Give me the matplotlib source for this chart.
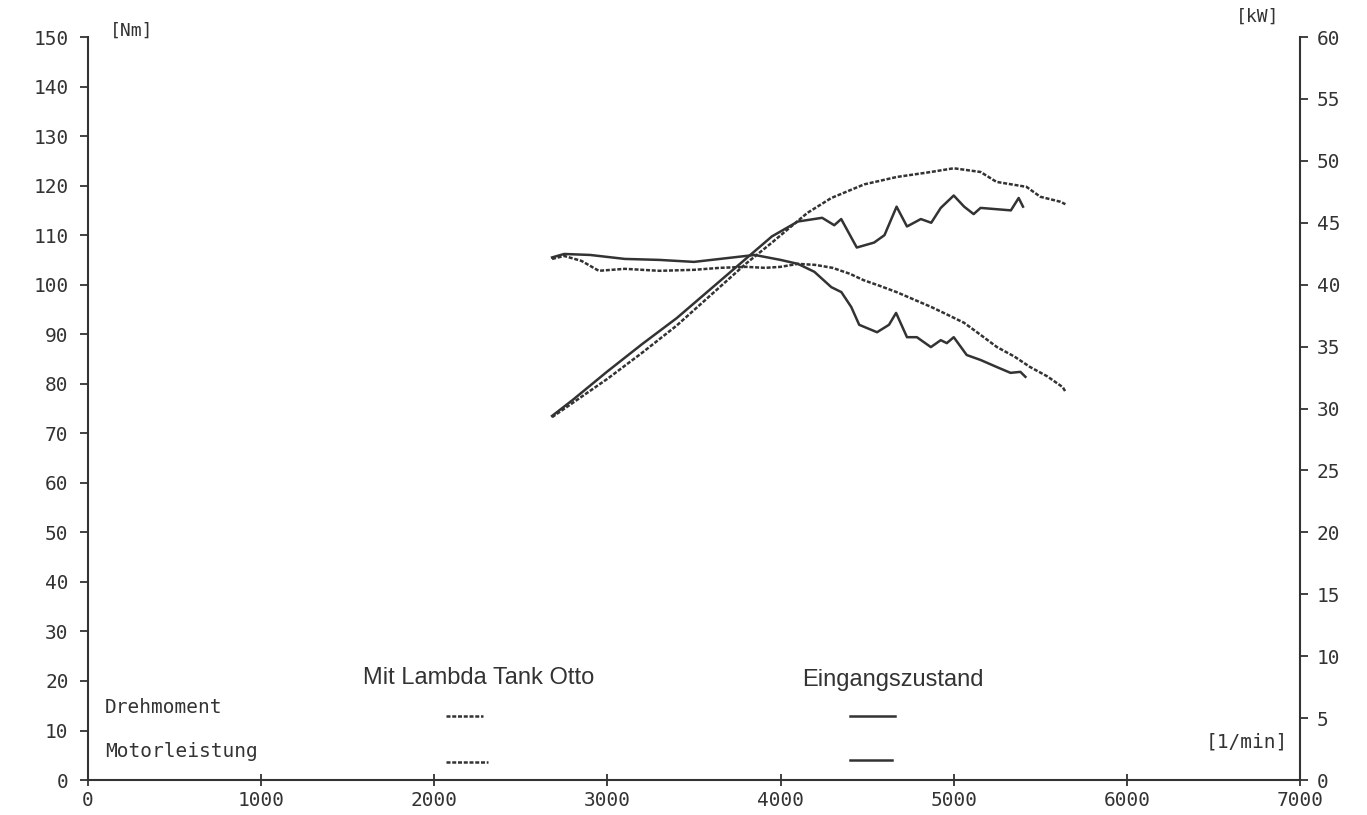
import matplotlib
matplotlib.use("Agg")
import matplotlib.pyplot as plt
from matplotlib.lines import Line2D

# ---- data ----
rpm_t_lambda = [2680, 2750, 2850, 2950, 3100, 3300, 3500, 3650, 3800, 3910, 4000, 4100,
                4200, 4300, 4400, 4480, 4570, 4670, 4770, 4870, 4960, 5060, 5150, 5250,
                5350, 5440, 5540, 5630, 5645]
torque_lambda = [105.2, 105.8, 104.8, 102.8, 103.2, 102.8, 103.0, 103.4, 103.6, 103.4, 103.6, 104.2,
                 104.0, 103.4, 102.2, 100.9, 99.8, 98.5, 97.0, 95.5, 94.0, 92.3, 90.0, 87.4,
                 85.5, 83.4, 81.5, 79.3, 78.4]

rpm_t_base = [2680, 2750, 2900, 3100, 3300, 3500, 3700, 3850, 4000, 4100, 4195, 4293, 4351,
              4408, 4454, 4557, 4626, 4667, 4730, 4787, 4868, 4925, 4960, 5000, 5075, 5155,
              5247, 5328, 5385, 5414]
torque_base = [105.5, 106.2, 106.0, 105.2, 105.0, 104.6, 105.4, 106.0, 105.0, 104.2, 102.6, 99.5, 98.5,
               95.5, 91.9, 90.4, 91.9, 94.3, 89.4, 89.4, 87.4, 88.8, 88.2, 89.4, 85.8, 84.8,
               83.4, 82.2, 82.4, 81.4]

rpm_p_base = [2680, 2800, 3000, 3200, 3400, 3600, 3800, 3950, 4100, 4240, 4310, 4350, 4440,
              4540, 4600, 4670, 4730, 4810, 4870, 4925, 5000, 5060, 5115, 5155, 5330, 5375, 5400]
power_base = [29.4, 30.7, 33.0, 35.2, 37.3, 39.7, 42.1, 43.9, 45.1, 45.4, 44.8, 45.3, 43.0,
              43.4, 44.0, 46.3, 44.7, 45.3, 45.0, 46.2, 47.2, 46.3, 45.7, 46.2, 46.0, 47.0, 46.3]

rpm_p_lambda = [2680, 3000, 3200, 3400, 3600, 3800, 3950, 4155, 4293, 4483, 4672, 4868, 5000,
                5155, 5247, 5420, 5500, 5615, 5645]
power_lambda = [29.3, 32.4, 34.5, 36.7, 39.2, 41.7, 43.4, 45.8, 47.0, 48.1, 48.7, 49.1, 49.4,
                49.1, 48.3, 47.9, 47.1, 46.7, 46.5]

x_ticks = [0, 1000, 2000, 3000, 4000, 5000, 6000, 7000]
nm_ticks = list(range(0, 151, 10))
kw_ticks = list(range(0, 61, 5))

series_title_lambda = "Mit Lambda Tank Otto"
series_title_base = "Eingangszustand"
legend_rows = ["Drehmoment", "Motorleistung"]

# ---- style ----
ink = "#333333"
mono = "DejaVu Sans Mono"
dotted = (0, (1.6, 0.7))

fig = plt.figure(figsize=(13.67, 8.15), dpi=100)
ax = fig.add_axes([0.0644, 0.0429, 0.8866, 0.9117])
ax2 = ax.twinx()

ax.set_xlim(0, 7000)
ax.set_ylim(0, 150)
ax2.set_ylim(0, 60)

ax.plot(rpm_t_lambda, torque_lambda, color=ink, lw=1.8, linestyle=dotted)
ax.plot(rpm_t_base, torque_base, color=ink, lw=1.8)
ax2.plot(rpm_p_lambda, power_lambda, color=ink, lw=1.8, linestyle=dotted)
ax2.plot(rpm_p_base, power_base, color=ink, lw=1.8)

for a in (ax, ax2):
    a.spines["top"].set_visible(False)
    for s in a.spines.values():
        s.set_color(ink)
        s.set_linewidth(1.5)
ax.spines["right"].set_visible(False)
ax2.spines["left"].set_visible(False)
ax2.spines["bottom"].set_visible(False)

tick_fs = 14
ax.set_xticks(x_ticks)
ax.set_xticklabels([str(v) for v in x_ticks], fontfamily=mono, fontsize=tick_fs, color=ink)
ax.set_yticks(nm_ticks)
ax.set_yticklabels([str(v) for v in nm_ticks], fontfamily=mono, fontsize=tick_fs, color=ink)
ax2.set_yticks(kw_ticks)
ax2.set_yticklabels([str(v) for v in kw_ticks], fontfamily=mono, fontsize=tick_fs, color=ink)

ax.tick_params(axis="x", direction="inout", length=8, width=1.3, colors=ink, pad=4)
ax.tick_params(axis="y", direction="out", length=6, width=1.3, colors=ink, pad=8)
ax2.tick_params(axis="y", direction="out", length=6, width=1.3, colors=ink, pad=6)

# unit labels
ax.text(0.018, 1.009, "[Nm]", transform=ax.transAxes, fontfamily=mono, fontsize=13,
        color=ink, ha="left", va="center")
ax.text(0.983, 1.027, "[kW]", transform=ax.transAxes, fontfamily=mono, fontsize=13,
        color=ink, ha="right", va="center", clip_on=False)
ax.text(0.99, 0.051, "[1/min]", transform=ax.transAxes, fontfamily=mono, fontsize=14,
        color=ink, ha="right", va="center")

# legend block
ax.text(0.014, 0.098, legend_rows[0], transform=ax.transAxes, fontfamily=mono, fontsize=14,
        color=ink, ha="left", va="center")
ax.text(0.014, 0.038, legend_rows[1], transform=ax.transAxes, fontfamily=mono, fontsize=14,
        color=ink, ha="left", va="center")
ax.text(0.322, 0.137, series_title_lambda, transform=ax.transAxes, fontfamily="Liberation Sans",
        fontsize=17, color=ink, ha="center", va="center")
ax.text(0.664, 0.135, series_title_base, transform=ax.transAxes, fontfamily="Liberation Sans",
        fontsize=17, color=ink, ha="center", va="center")

for (x0, x1, y, ls) in [(0.295, 0.326, 0.086, dotted), (0.295, 0.330, 0.024, dotted),
                        (0.629, 0.666, 0.086, "-"), (0.629, 0.663, 0.027, "-")]:
    ax.add_line(Line2D([x0, x1], [y, y], transform=ax.transAxes, color=ink, lw=1.8,
                       linestyle=ls))

fig.savefig("out.png", dpi=100, facecolor="white")
